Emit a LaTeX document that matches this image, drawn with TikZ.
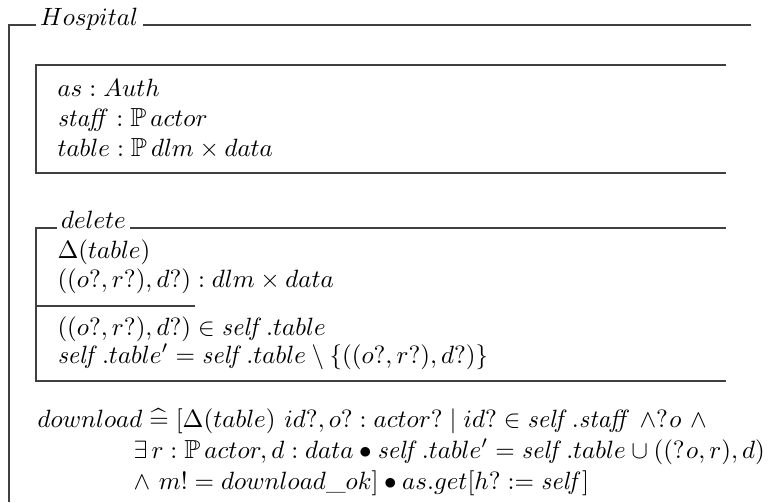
\documentclass[tikz,border=0pt]{standalone}
\usepackage{amssymb}
\newcommand{\zself}{\mathit{self}}
\newcommand{\zsd}{\mathit{self}\mkern2.5mu.}
\begin{document}
\begin{tikzpicture}[x=0.4pt,y=-0.4pt,
  frame/.style={draw=black!75, line width=0.45pt},
  zline/.style={font=\fontsize{10.45}{12.5}\selectfont, anchor=base west, inner sep=0pt},
  ztitle/.style={anchor=base west, fill=white, inner xsep=1.8pt, inner ysep=1pt, font=\fontsize{10.3}{12.4}\selectfont}]
\useasboundingbox (0,0) rectangle (777,502);
% outer class frame
\coordinate (otl) at (9,25);
\coordinate (obl) at (9,502);
\coordinate (otr) at (751,25);
\draw[frame] (obl) -- (otl) -- (otr);
\node[ztitle] (hosp) at (35,25) {$Hospital$};
% state schema
\coordinate (s1) at (726,65);
\coordinate (s2) at (36,65);
\coordinate (s3) at (36,173);
\coordinate (s4) at (726,173);
\draw[frame] (s1) -- (s2) -- (s3) -- (s4);
\node[zline] (st1) at (57,96) {$as : Auth$};
\node[zline] (st2) at (57,126) {$\mathit{staff} : \mathbb{P}\,actor$};
\node[zline] (st3) at (57,156) {$table : \mathbb{P}\,dlm \times data$};
% delete operation
\coordinate (d1) at (726,228);
\coordinate (d2) at (36,228);
\coordinate (d3) at (36,381);
\coordinate (d4) at (726,381);
\coordinate (dv1) at (36,306);
\coordinate (dv2) at (195,306);
\draw[frame] (d1) -- (d2) -- (d3) -- (d4);
\draw[frame] (dv1) -- (dv2);
\node[ztitle] (del) at (56,228) {$delete$};
\node[zline] (dl1) at (57,258) {$\Delta(table)$};
\node[zline] (dl2) at (57,287) {$((o?, r?), d?) : dlm \times data$};
\node[zline] (dl3) at (57,335) {$((o?, r?), d?) \in \zsd table$};
\node[zline] (dl4) at (57,363) {$\zsd table' = \zsd table \setminus \{((o?, r?), d?)\}$};
% download operation
\node[zline] (dw1) at (37,427) {$download \mathrel{\widehat{=}} [\Delta(table)\ id?, o? : actor? \mid id? \in \zsd\mathit{staff}\ \mathord{\land}{?}\mkern1mu o\ \mathord{\land}$};
\node[zline] (dw2) at (133,458) {$\exists\, r : \mathbb{P}\,actor, d : data \bullet \zsd table' = \zsd table \cup ((?\mkern1mu o, r), d)$};
\node[zline] (dw3) at (133,489) {$\land\ m! = download\_ok] \bullet as.get[h? := \zself]$};
\end{tikzpicture}
\end{document}
